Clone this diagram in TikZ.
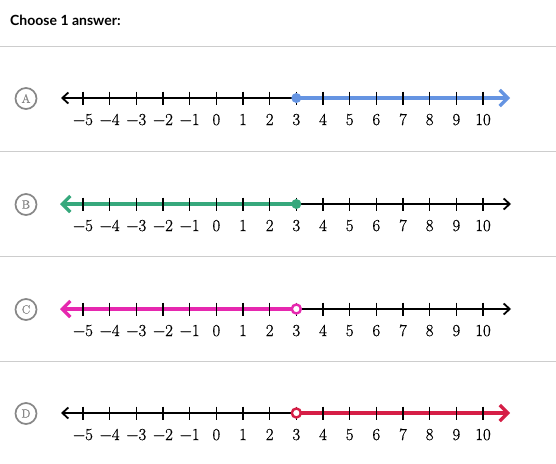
\documentclass[tikz,border=0pt]{standalone}
\usepackage{fontspec}
\newfontfamily\latofont{Lato}
\newfontfamily\numfont[FakeBold=0.6]{Latin Modern Roman}
\usetikzlibrary{arrows.meta}
\definecolor{kablue}{RGB}{101,148,226}
\definecolor{kagreen}{RGB}{54,168,124}
\definecolor{kapink}{RGB}{230,40,175}
\definecolor{kared}{RGB}{214,30,70}
\definecolor{sepgray}{RGB}{205,205,205}
\definecolor{letgray}{RGB}{135,135,135}
\tikzset{
  sep/.style={draw=sepgray, line width=1pt},
  axisline/.style={line width=1.8pt, black},
  blackhead/.style={-{Straight Barb[length=6pt,width=11pt,line width=1.8pt]}},
  tickmark/.style={line width=1.6pt, black},
  numlabel/.style={anchor=base, font=\numfont\fontsize{16.8}{19}\selectfont, inner sep=0pt},
  letcircle/.style={circle, draw=letgray, line width=1.7pt, minimum size=21pt, inner sep=0pt, text=letgray, font=\numfont\fontsize{12}{14}\selectfont},
  ray/.style={line width=3.4pt},
  rayhead/.style={-{Straight Barb[length=8pt,width=16pt,line width=3.2pt]}},
  filleddot/.style={circle, inner sep=0pt, minimum size=10pt},
  opendot/.style={circle, inner sep=0pt, minimum size=9pt, fill=white, line width=2.4pt},
}
\newcommand{\xpos}[1]{83+26.667*(#1+5)}
\newcommand{\signednum}[1]{\ifnum#1<0 −\the\numexpr-#1\relax\else#1\fi}
\newcommand{\nlticks}[1]{%
  \foreach \n in {-5,...,10} {
    \draw[tickmark] ({\xpos{\n}},#1-6.5) -- ({\xpos{\n}},#1+6.5);
    \node[numlabel] at ({\xpos{\n}},#1+27) {\signednum{\n}};
  }}
\begin{document}
\begin{tikzpicture}[x=1pt,y=-1pt]
\useasboundingbox (0,0) rectangle (556,463);
\fill[white] (0,0) rectangle (556,463);
\node[anchor=base west, inner sep=0pt, font=\latofont\bfseries\fontsize{14}{16}\selectfont] (title) at (10,25) {Choose 1 answer:};
\draw[sep] (0,46) -- (556,46);
\draw[sep] (0,151.5) -- (556,151.5);
\draw[sep] (0,256.5) -- (556,256.5);
\draw[sep] (0,361.5) -- (556,361.5);

% A
\node[letcircle] (cA) at (26,98.5) {A};
\coordinate (lA) at (61,98);
\coordinate (pA) at ({\xpos{3}},98);
\coordinate (rA) at (510,98);
\draw[axisline, blackhead] (pA) -- (lA);
\draw[ray, kablue, rayhead] (pA) -- (rA);
\nlticks{98}
\node[filleddot, fill=kablue] (dA) at (pA) {};

% B
\node[letcircle] (cB) at (26,204.5) {B};
\coordinate (lB) at (60,204);
\coordinate (pB) at ({\xpos{3}},204);
\coordinate (rB) at (511,204);
\draw[axisline, blackhead] (pB) -- (rB);
\draw[ray, kagreen, rayhead] (pB) -- (lB);
\nlticks{204}
\node[filleddot, fill=kagreen] (dB) at (pB) {};

% C
\node[letcircle] (cC) at (26,309.5) {C};
\coordinate (lC) at (60,309);
\coordinate (pC) at ({\xpos{3}},309);
\coordinate (rC) at (511,309);
\draw[axisline, blackhead] (pC) -- (rC);
\draw[ray, kapink, rayhead] (pC) -- (lC);
\nlticks{309}
\node[opendot, draw=kapink] (dC) at (pC) {};

% D
\node[letcircle] (cD) at (26,413.5) {D};
\coordinate (lD) at (61,413);
\coordinate (pD) at ({\xpos{3}},413);
\coordinate (rD) at (510,413);
\draw[axisline, blackhead] (pD) -- (lD);
\draw[ray, kared, rayhead] (pD) -- (rD);
\nlticks{413}
\node[opendot, draw=kared] (dD) at (pD) {};
\end{tikzpicture}
\end{document}
